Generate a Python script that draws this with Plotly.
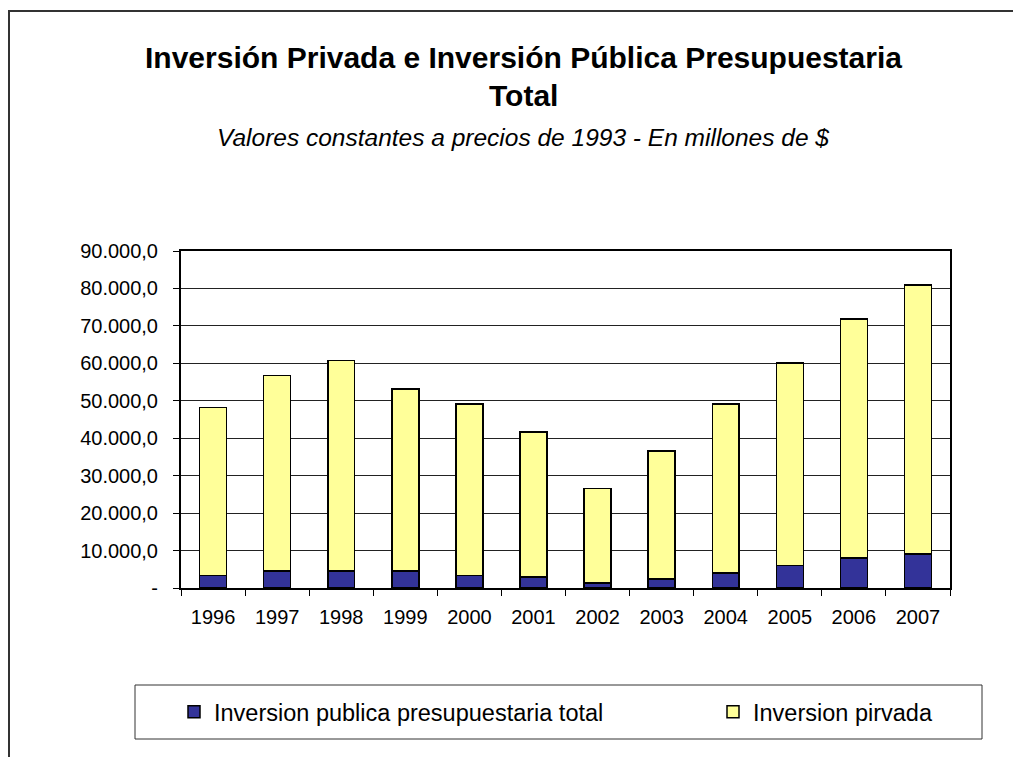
import plotly.graph_objects as go

years = ["1996", "1997", "1998", "1999", "2000", "2001",
         "2002", "2003", "2004", "2005", "2006", "2007"]
publica = [3400, 4500, 4500, 4500, 3400, 2900, 1400, 2400, 4000, 6000, 8000, 9100]
total = [48200, 56800, 60800, 53200, 49200, 41600, 26600, 36600, 49200, 60100, 71800, 80900]
privada = [t - p for t, p in zip(total, publica)]

y_ticks = [0, 10000, 20000, 30000, 40000, 50000, 60000, 70000, 80000, 90000]
y_ticktext = ["-", "10.000,0", "20.000,0", "30.000,0", "40.000,0", "50.000,0",
              "60.000,0", "70.000,0", "80.000,0", "90.000,0"]

W, H = 1021, 757
OFF = 8  # page body margin
# plot area in screen pixels
L, R, T, B = 181, 950, 251, 588
FONT = "Liberation Sans, Arial, sans-serif"


def px(x):
    return (x - L) / (R - L)


def py(y):
    return (B - y) / (B - T)


fig = go.Figure()
fig.add_trace(go.Bar(x=years, y=publica, name="Inversion publica presupuestaria total",
                     legend="legend",
                     marker=dict(color="#333399", line=dict(color="#000", width=1.5))))
fig.add_trace(go.Bar(x=years, y=privada, name="Inversion pirvada",
                     legend="legend2",
                     marker=dict(color="#FFFF99", line=dict(color="#000", width=1.5))))

# outer chart border (runs off the right and bottom edges)
fig.add_shape(type="rect", xref="paper", yref="paper",
              x0=px(9), x1=px(1080), y0=py(11), y1=py(820),
              line=dict(color="#333", width=2), layer="below")
# legend box
fig.add_shape(type="rect", xref="paper", yref="paper",
              x0=px(135), x1=px(982), y0=py(685), y1=py(739),
              line=dict(color="#333", width=1), layer="below")

title_font = dict(family=FONT, size=30, color="#000")
fig.add_annotation(xref="paper", yref="paper", x=px(523), y=py(57), yanchor="middle",
                   text="<b>Inversión Privada e Inversión Pública Presupuestaria</b>",
                   showarrow=False, font=title_font)
fig.add_annotation(xref="paper", yref="paper", x=px(523), y=py(95), yanchor="middle",
                   text="<b>Total</b>", showarrow=False, font=title_font)
fig.add_annotation(xref="paper", yref="paper", x=px(523), y=py(137), yanchor="middle",
                   text="<i>Valores constantes a precios de 1993 - En millones de $</i>",
                   showarrow=False, font=dict(family=FONT, size=24.5, color="#000"))

fig.update_xaxes(type="category", tickson="boundaries", ticks="outside", ticklen=6,
                 tickcolor="#000", showline=True, linecolor="#000", linewidth=2,
                 mirror=True, showgrid=False, ticklabelstandoff=10,
                 tickfont=dict(family=FONT, size=20, color="#000"))
fig.update_yaxes(range=[0, 90000], tickvals=y_ticks, ticktext=y_ticktext,
                 ticks="outside", ticklen=6, tickcolor="#000",
                 showline=True, linecolor="#000", linewidth=2, mirror=True,
                 showgrid=True, gridcolor="#222", gridwidth=1, zeroline=False,
                 ticklabelstandoff=11,
                 tickfont=dict(family=FONT, size=20, color="#000"))

legend_font = dict(family=FONT, size=23.5, color="#000")
fig.update_layout(width=W, height=H, barmode="stack", bargap=0.58,
                  margin=dict(l=L - OFF, r=W - R + OFF, t=T - OFF, b=H - B + OFF,
                              autoexpand=False),
                  plot_bgcolor="#fff", paper_bgcolor="#fff",
                  hovermode=False, showlegend=True,
                  legend=dict(orientation="h", x=px(174), xanchor="left",
                              y=py(712), yanchor="middle",
                              bgcolor="rgba(0,0,0,0)", font=legend_font),
                  legend2=dict(orientation="h", x=px(713), xanchor="left",
                               y=py(712), yanchor="middle",
                               bgcolor="rgba(0,0,0,0)", font=legend_font))

fig.write_html("out.html")
